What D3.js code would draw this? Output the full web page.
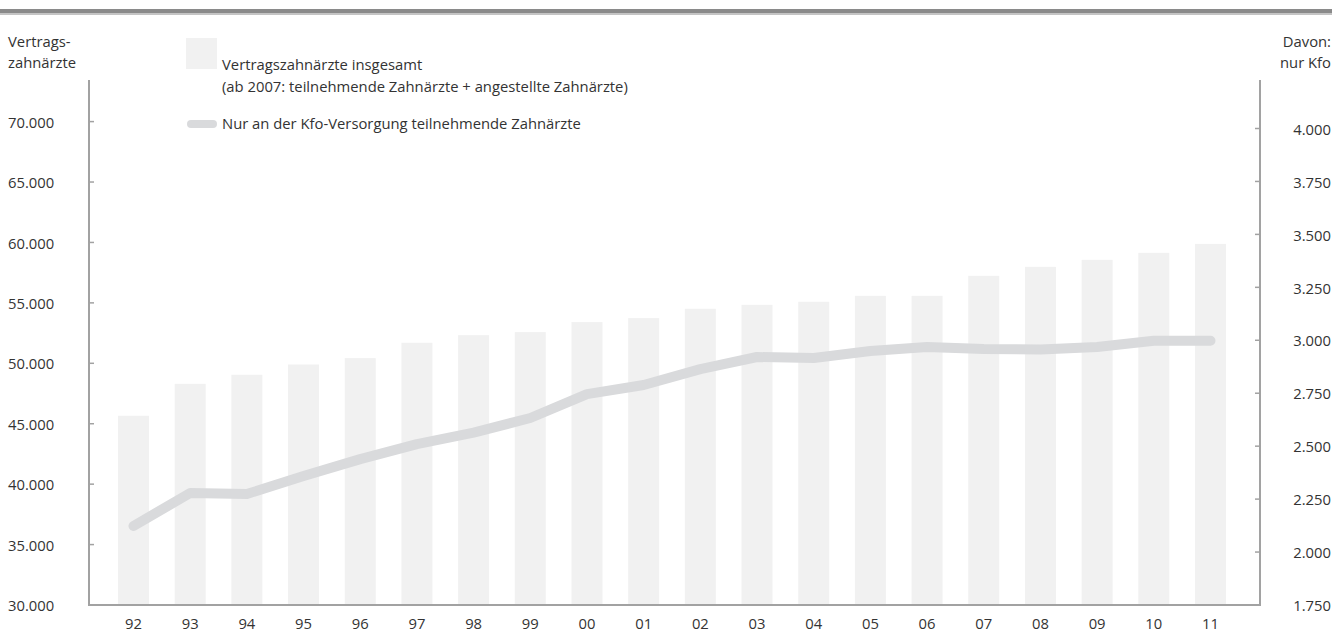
<!DOCTYPE html>
<html><head><meta charset="utf-8">
<script src="https://cdn.jsdelivr.net/npm/d3@7"></script>
<style>
html,body{margin:0;padding:0;background:#fff;}
svg text{font-family:"Open Sans",sans-serif;fill:#333;}
</style></head>
<body><svg id="c" width="1343" height="632"></svg>
<script>
const years = ["92","93","94","95","96","97","98","99","00","01","02","03","04","05","06","07","08","09","10","11"];
const totalDentists = [45660,48300,49050,49900,50430,51700,52330,52580,53410,53740,54510,54840,55090,55580,55580,57240,57980,58560,59140,59880];
const kfoDentists = [2123,2279,2274,2359,2439,2510,2564,2633,2746,2789,2864,2921,2916,2949,2968,2959,2957,2968,2998,2998];
const leftTicks = [30000,35000,40000,45000,50000,55000,60000,65000,70000];
const rightTicks = [1750,2000,2250,2500,2750,3000,3250,3500,3750,4000];
const leftTitle = ["Vertrags-","zahnärzte"];
const rightTitle = ["Davon:","nur Kfo"];
const legendBar = ["Vertragszahnärzte insgesamt","(ab 2007: teilnehmende Zahnärzte + angestellte Zahnärzte)"];
const legendLine = "Nur an der Kfo-Versorgung teilnehmende Zahnärzte";

const svg = d3.select("#c");
const loc = d3.formatLocale({decimal:",",thousands:".",grouping:[3],currency:["","€"]});
const fmt = loc.format(",.0f");

const x = d3.scalePoint().domain(years).range([133.5,1210.5]);
const barW = 31;
const yL = d3.scaleLinear().domain([30000,70000]).range([605,121.6]);
const yR = d3.scaleLinear().domain([1750,4000]).range([605,128.5]);
const fs = 14.8;

// top rule
svg.append("rect").attr("x",0).attr("y",9).attr("width",1332).attr("height",4.5).attr("fill","#8a8a8a");
svg.append("rect").attr("x",0).attr("y",13.5).attr("width",1332).attr("height",1.5).attr("fill","#c4c4c4");

// bars
svg.append("g").selectAll("rect").data(years).join("rect")
  .attr("x",d=>x(d)-barW/2).attr("width",barW)
  .attr("y",(d,i)=>yL(totalDentists[i])).attr("height",(d,i)=>yL(30000)-yL(totalDentists[i]))
  .attr("fill","#f1f1f1");

// line
const line = d3.line().x((d,i)=>x(years[i])).y(d=>yR(d));
svg.append("path").datum(kfoDentists).attr("d",line)
  .attr("fill","none").attr("stroke","#d9dadc").attr("stroke-width",10)
  .attr("stroke-linecap","round").attr("stroke-linejoin","round");

// axes
const axCol = "#a2a2a2";
svg.append("line").attr("x1",89).attr("x2",89).attr("y1",80).attr("y2",606).attr("stroke",axCol).attr("stroke-width",2);
svg.append("line").attr("x1",1260).attr("x2",1260).attr("y1",80).attr("y2",606).attr("stroke",axCol).attr("stroke-width",2);
svg.append("line").attr("x1",88).attr("x2",1261).attr("y1",605).attr("y2",605).attr("stroke",axCol).attr("stroke-width",2);

const gl = svg.append("g");
gl.selectAll("line").data(leftTicks.slice(1)).join("line")
  .attr("x1",89).attr("x2",94).attr("y1",d=>yL(d)).attr("y2",d=>yL(d)).attr("stroke",axCol).attr("stroke-width",1.5);
gl.selectAll("text").data(leftTicks).join("text")
  .attr("x",8).attr("y",d=>yL(d)+1).attr("dy","0.35em").attr("font-size",fs).text(d=>fmt(d));

const gr = svg.append("g");
gr.selectAll("line").data(rightTicks.slice(1)).join("line")
  .attr("x1",1255).attr("x2",1260).attr("y1",d=>yR(d)).attr("y2",d=>yR(d)).attr("stroke",axCol).attr("stroke-width",1.5);
gr.selectAll("text").data(rightTicks).join("text")
  .attr("x",1331).attr("y",d=>yR(d)+1).attr("dy","0.35em").attr("text-anchor","end").attr("font-size",fs).text(d=>fmt(d));

svg.append("g").selectAll("text").data(years).join("text")
  .attr("x",d=>x(d)).attr("y",629).attr("text-anchor","middle").attr("font-size",fs).text(d=>d);

// titles
svg.append("g").selectAll("text").data(leftTitle).join("text")
  .attr("x",8).attr("y",(d,i)=>47+i*21).attr("font-size",fs).text(d=>d);
svg.append("g").selectAll("text").data(rightTitle).join("text")
  .attr("x",1331).attr("y",(d,i)=>47+i*21).attr("text-anchor","end").attr("font-size",fs).text(d=>d);

// legend
svg.append("rect").attr("x",186).attr("y",38).attr("width",31).attr("height",31).attr("fill","#f1f1f1");
svg.append("g").selectAll("text").data(legendBar).join("text")
  .attr("x",222).attr("y",(d,i)=>70+i*22).attr("font-size",fs).text(d=>d);
svg.append("line").attr("x1",191).attr("x2",213).attr("y1",124).attr("y2",124)
  .attr("stroke","#d9dadc").attr("stroke-width",8).attr("stroke-linecap","round");
svg.append("text").attr("x",222).attr("y",129).attr("font-size",fs).text(legendLine);
</script></body></html>
